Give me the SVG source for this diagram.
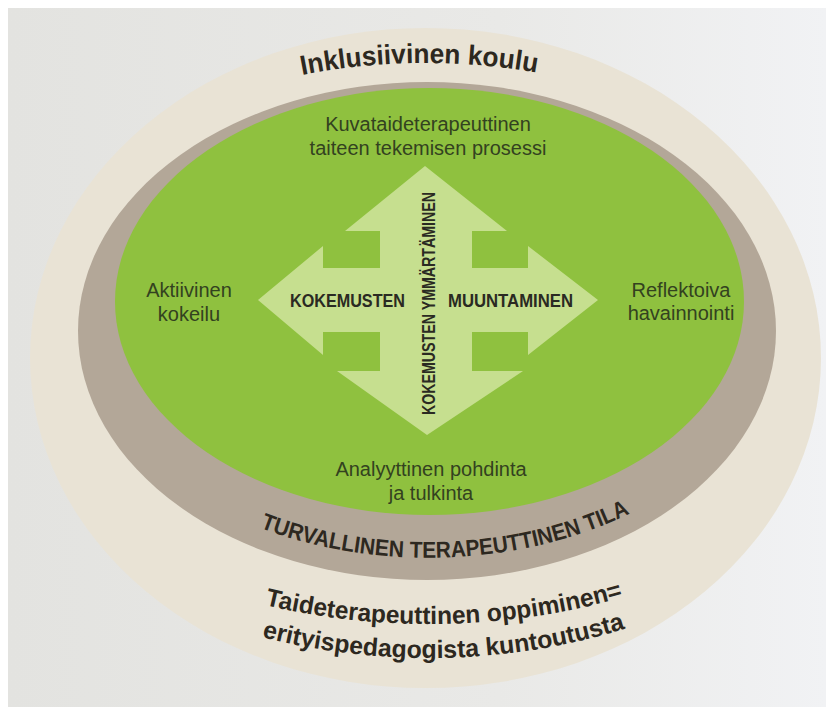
<svg xmlns="http://www.w3.org/2000/svg" width="826" height="711" viewBox="0 0 826 711">
  <defs>
    <linearGradient id="paper" x1="0" y1="0" x2="1" y2="0">
      <stop offset="0" stop-color="#e3e3e0"/>
      <stop offset="0.6" stop-color="#e9e9e7"/>
      <stop offset="1" stop-color="#f1f2f4"/>
    </linearGradient>
    <!-- baselines for the curved ring titles -->
    <path id="arcTop" d="M 302 74.9 A 437 295 0 0 1 560 77.4"/>
    <path id="arcSafe" d="M 260 527.8 A 340 228 0 0 0 660 496.6"/>
    <path id="arcLine1" d="M 265 605 A 464 294 0 0 0 660 585"/>
    <path id="arcLine2" d="M 262 637 A 474 328 0 0 0 660 616.4"/>
    <style>
      .sans { font-family: "Liberation Sans", Arial, "DejaVu Sans", sans-serif; }
      .stage { font-size: 20px; fill: #33421f; text-anchor: middle; }
      .cross { font-size: 18px; font-weight: bold; fill: #2a2a22; }
      .ring { font-weight: bold; fill: #2d2820; }
    </style>
  </defs>

  <!-- photo backdrop -->
  <rect x="0" y="0" width="826" height="711" fill="#ffffff"/>
  <rect x="8" y="8" width="818" height="699" fill="url(#paper)"/>

  <!-- outer ring: inclusive school -->
  <g id="inclusive-school">
    <ellipse cx="425.5" cy="358" rx="395.5" ry="330" fill="#e9e3d5"/>
    <text class="sans ring" font-size="27.5"><textPath href="#arcTop" textLength="236" lengthAdjust="spacingAndGlyphs">Inklusiivinen koulu</textPath></text>
    <text class="sans ring" font-size="25"><textPath href="#arcLine1" textLength="362" lengthAdjust="spacingAndGlyphs">Taideterapeuttinen oppiminen=</textPath></text>
    <text class="sans ring" font-size="25"><textPath href="#arcLine2" textLength="368" lengthAdjust="spacingAndGlyphs">erityispedagogista kuntoutusta</textPath></text>
  </g>

  <!-- middle ring: safe therapeutic space (one word per run along the arc) -->
  <g id="safe-space">
    <ellipse cx="427" cy="331" rx="349" ry="249" fill="#b3a798"/>
    <text class="sans ring" font-size="23"><textPath href="#arcSafe" startOffset="0" textLength="147" lengthAdjust="spacingAndGlyphs">TURVALLINEN</textPath></text>
    <text class="sans ring" font-size="23"><textPath href="#arcSafe" startOffset="153" textLength="175" lengthAdjust="spacingAndGlyphs">TERAPEUTTINEN</textPath></text>
    <text class="sans ring" font-size="23"><textPath href="#arcSafe" startOffset="334" textLength="46" lengthAdjust="spacingAndGlyphs">TILA</textPath></text>
  </g>

  <!-- inner field: art-making process -->
  <g id="art-process">
    <ellipse cx="429.5" cy="301.5" rx="314.5" ry="213.5" fill="#8fc13f"/>
  </g>

  <!-- four-way arrow cross -->
  <g id="connectors">
    <path fill="#c6df8f" d="M 425 166 L 507 231 L 472 231 L 472 268 L 528 268 L 528 246 L 598 300 L 528 355 L 528 332 L 472 332 L 472 371 L 523 371 L 427 435 L 337 371 L 380 371 L 380 332 L 323 332 L 323 355 L 258 300 L 323 246 L 323 268 L 380 268 L 380 231 L 345 231 Z"/>
  </g>

  <g id="stage-top">
    <text class="sans stage" x="428" y="131">Kuvataideterapeuttinen</text>
    <text class="sans stage" x="428" y="155">taiteen tekemisen prosessi</text>
  </g>
  <g id="stage-left">
    <text class="sans stage" x="189" y="297">Aktiivinen</text>
    <text class="sans stage" x="189" y="321">kokeilu</text>
  </g>
  <g id="stage-right">
    <text class="sans stage" x="681" y="297">Reflektoiva</text>
    <text class="sans stage" x="681" y="320">havainnointi</text>
  </g>
  <g id="stage-bottom">
    <text class="sans stage" x="431" y="476">Analyyttinen pohdinta</text>
    <text class="sans stage" x="431" y="500">ja tulkinta</text>
  </g>

  <g id="cross-labels">
    <text class="sans cross" x="290" y="307" textLength="115" lengthAdjust="spacingAndGlyphs">KOKEMUSTEN</text>
    <text class="sans cross" x="448" y="307" textLength="125" lengthAdjust="spacingAndGlyphs">MUUNTAMINEN</text>
    <text class="sans cross" transform="translate(435 415) rotate(-90)" x="0" y="0" textLength="223" lengthAdjust="spacingAndGlyphs">KOKEMUSTEN YMMÄRTÄMINEN</text>
  </g>
</svg>
